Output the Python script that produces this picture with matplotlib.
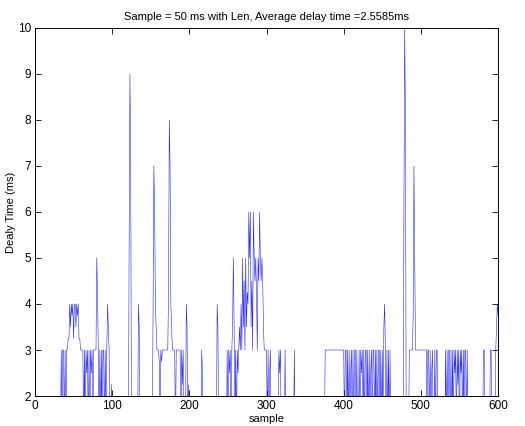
import numpy as np
import matplotlib
matplotlib.use("Agg")
import matplotlib.pyplot as plt

# delay per sample (ms), 600 samples, 20 per row
delay = [
    1, 1, 1, 1, 1, 1, 1, 1, 1, 1, 1, 1, 1, 1, 1, 1, 1, 1, 1, 1,
    1, 1, 1, 1, 1, 1, 1, 1, 1, 1, 1, 1, 1, 3, 1, 3, 3, 1, 3, 1,
    3, 3, 3.25, 3.25, 4, 3.5, 4, 3.75, 4, 3.25, 4, 4, 3.5, 4, 3.75, 4, 3.25, 3.25, 3, 3,
    3, 3, 1, 3, 1, 3, 2.5, 3, 1, 3, 1, 3, 2.5, 3, 1, 3, 3, 3, 3, 5,
    4.25, 3, 1, 3, 1, 3, 1, 3, 3, 1, 3, 1, 3, 4, 3.5, 3, 1, 1, 2.25, 1,
    1, 1, 1, 1, 1, 1, 1, 1, 1, 1, 1, 1, 1, 1, 1, 1, 1, 1, 1, 1,
    1, 5.5, 9, 7.25, 1, 1, 1, 1, 1, 1, 1, 1, 1, 4, 3.5, 1, 1, 1, 1, 1,
    1, 1, 1, 1, 1, 1, 1, 1, 1, 1, 1, 1, 4, 7, 6, 4, 3.5, 3, 3, 3,
    2.75, 1, 3, 2.75, 3, 3, 3, 3, 3, 3, 3, 3, 4.25, 8, 7, 4, 3.5, 3, 3, 3,
    3, 1, 3, 3, 3, 3, 3, 3, 1, 3, 2.25, 3, 1, 1, 1, 4, 3.5, 1, 2.25, 1,
    1, 1, 1, 1, 1, 1, 1, 1, 1, 1, 1, 1, 1, 1, 1, 3, 2.5, 1, 1, 1,
    1, 1, 1, 1, 1, 1, 1, 1, 1, 1, 1, 1, 1, 1, 1, 4, 3.5, 1, 1, 1,
    1, 1, 1, 1, 1, 1, 1, 1, 3, 1, 3, 2.5, 3, 1, 3, 3.5, 5, 3.5, 1, 3,
    1, 3, 2.5, 3, 3.5, 3, 4, 3, 5, 3.5, 4.5, 3, 5, 3.5, 4.25, 4, 6, 5, 6, 3.5,
    4.5, 3, 6, 5, 4.5, 5, 4.25, 3, 5, 4.5, 6, 5, 4.5, 5, 4.5, 3.5, 3, 3, 3, 3,
    1, 3, 1, 2.5, 3, 1, 1, 1, 1, 1, 1, 1, 1, 1, 1, 3, 2.5, 3, 1, 1,
    1, 1, 1, 3, 1, 1, 1, 1, 1, 1, 1, 1, 1, 1, 1, 3, 1, 1, 1, 1,
    1, 1, 1, 1, 1, 1, 1, 1, 1, 1, 1, 1, 1, 1, 1, 1, 1, 1, 1, 1,
    1, 1, 1, 1, 1, 1, 1, 1, 1, 1, 1, 1, 1, 1, 1, 3, 3, 3, 3, 3,
    3, 3, 3, 3, 3, 3, 3, 3, 3, 3, 3, 3, 3, 3, 3, 3, 3, 3, 3, 3,
    1, 3, 3, 1, 3, 1, 3, 1, 2.5, 3, 1, 3, 1, 3, 3, 1, 3, 1, 1, 3,
    1, 3, 2.5, 3, 1, 3, 1, 3, 3, 1, 3, 1, 3, 1, 2.5, 3, 1, 3, 3, 1,
    3, 1, 3, 1, 3, 3, 1, 3, 1, 3, 1, 3.5, 4, 3, 1, 3, 1, 3, 1, 3,
    1, 1, 1, 1, 1, 1, 1, 1, 1, 1, 1, 1, 1, 1, 1, 1, 1, 6, 10, 8,
    1, 1, 1, 1, 3, 3, 3, 3, 3, 3.75, 7, 5, 3, 3, 3, 3, 3, 3, 3, 3,
    3, 3, 3, 3, 3, 3, 3, 1, 3, 3, 1, 3, 1, 2.5, 3, 1, 1, 3, 1, 3,
    3, 1, 1, 1, 1, 1, 1, 1, 1, 1, 1, 3, 1, 3, 1, 3, 3, 1, 3, 1,
    3, 1, 3, 2.5, 3, 1, 3, 2.25, 3, 1, 3, 2.5, 3, 1, 3, 1, 3, 3, 1, 3,
    1, 1, 1, 1, 1, 1, 1, 1, 1, 1, 1, 1, 1, 1, 1, 1, 1, 1, 1, 1,
    3, 3, 1, 1, 1, 1, 1, 1, 1, 3, 3, 1, 1, 1, 1, 1, 3, 3.5, 4, 3.75,
]
sample = np.arange(1, len(delay) + 1)

xticks = [0, 100, 200, 300, 400, 500, 600]
yticks = [2, 3, 4, 5, 6, 7, 8, 9, 10]

plt.rcParams['font.family'] = ['Liberation Sans', 'DejaVu Sans']

fig = plt.figure(figsize=(5.25, 4.26), dpi=100)
ax = fig.add_axes([0.0667, 0.0704, 0.882, 0.864])

ax.plot(sample, delay, color='blue', linewidth=0.4, alpha=0.85)

ax.set_xlim(0, 600)
ax.set_ylim(2, 10)
ax.set_xticks(xticks)
ax.set_yticks(yticks)
ax.tick_params(direction='in', top=True, right=True, length=4, width=0.6,
               labelsize=8.5, pad=3)
for sp in ax.spines.values():
    sp.set_linewidth(0.7)

ax.set_title('Sample = 50 ms with Len, Average delay time =2.5585ms',
             fontsize=8, pad=6)
ax.set_xlabel('sample', fontsize=8, labelpad=1)
ax.set_ylabel('Dealy Time (ms)', fontsize=8, labelpad=1)

fig.savefig('out.png', dpi=100)
